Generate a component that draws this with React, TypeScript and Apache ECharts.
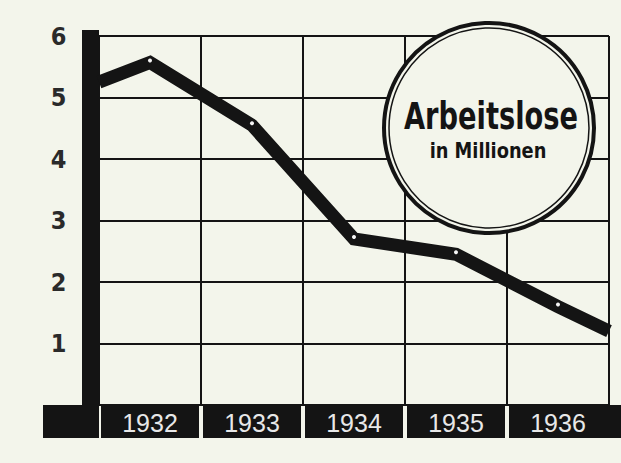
import React, { useEffect, useRef } from "react";
import * as echarts from "echarts";

const years = ["1932", "1933", "1934", "1935", "1936"];
// position along the time axis (0 = start of 1932, 5 = end of 1936)
const linePos = [0, 0.5, 1.5, 2.5, 3.5, 4.5, 5];
const lineValues = [5.25, 5.57, 4.55, 2.7, 2.45, 1.6, 1.2];
const dotted = [false, true, true, true, true, true, false];
const title = "Arbeitslose";
const subtitle = "in Millionen";

const BG = "#f3f5eb";
const INK = "#141414";
const NARROW = "'DejaVu Sans Condensed', 'Liberation Sans', sans-serif";

export default function App() {
  const ref = useRef<HTMLDivElement>(null);
  useEffect(() => {
    if (!ref.current) return;
    const chart = echarts.init(ref.current, null, { renderer: "svg" });
    const lineData = linePos.map((x, i) => ({
      value: [x, lineValues[i]],
      symbol: dotted[i] ? "circle" : "none",
    }));
    chart.setOption({
      animation: false,
      backgroundColor: BG,
      grid: { left: 99, right: 12, top: 36, bottom: 58, containLabel: false },
      xAxis: [
        {
          type: "category",
          data: years,
          boundaryGap: true,
          axisLine: { show: false, onZero: false },
          axisTick: { show: false },
          splitLine: { show: true, lineStyle: { color: INK, width: 2 } },
          axisLabel: {
            interval: 0,
            margin: 0,
            color: "#e8e8e8",
            fontFamily: "'Liberation Sans', Arial, sans-serif",
            fontSize: 25,
            backgroundColor: INK,
            width: 98,
            height: 33,
            lineHeight: 36,
            align: "center",
          },
        },
        {
          type: "value",
          min: 0,
          max: 5,
          show: false,
          axisLine: { onZero: false },
        },
      ],
      yAxis: {
        type: "value",
        min: 0,
        max: 6,
        interval: 1,
        offset: 8.5,
        axisLine: {
          show: true,
          onZero: false,
          lineStyle: { color: INK, width: 17, cap: "butt" },
        },
        axisTick: { show: false },
        splitLine: { show: true, lineStyle: { color: INK, width: 2 } },
        axisLabel: {
          margin: 24,
          color: "#2a2a2a",
          fontFamily: NARROW,
          fontWeight: "bold",
          fontSize: 25,
          formatter: (v: number) => (v === 0 ? "" : String(v)),
        },
      },
      series: [
        {
          type: "line",
          xAxisIndex: 1,
          data: lineData,
          symbolSize: 4,
          symbolOffset: [0, -2],
          itemStyle: { color: "#f5f5f5", borderWidth: 0 },
          lineStyle: { color: INK, width: 13, join: "miter", cap: "butt" },
          z: 3,
        },
      ],
      graphic: [
        { type: "rect", z: 50, shape: { x: 82, y: 30, width: 17, height: 8 }, style: { fill: INK } },
        { type: "rect", z: 50, shape: { x: 43, y: 405, width: 56, height: 33 }, style: { fill: INK } },
        { type: "rect", z: 50, shape: { x: 606, y: 405, width: 15, height: 33 }, style: { fill: INK } },
        {
          type: "circle",
          z: 100,
          shape: { cx: 489, cy: 128, r: 105 },
          style: { fill: BG, stroke: INK, lineWidth: 4 },
        },
        {
          type: "circle",
          z: 101,
          shape: { cx: 489, cy: 128, r: 100 },
          style: { fill: "none", stroke: INK, lineWidth: 1.5 },
        },
        {
          type: "text",
          z: 102,
          x: 491,
          y: 116,
          scaleX: 0.82,
          style: {
            text: title,
            fill: INK,
            font: `bold 37px ${NARROW}`,
            align: "center",
            verticalAlign: "middle",
          },
        },
        {
          type: "text",
          z: 102,
          x: 488,
          y: 151,
          scaleX: 0.9,
          style: {
            text: subtitle,
            fill: INK,
            font: `bold 22px ${NARROW}`,
            align: "center",
            verticalAlign: "middle",
          },
        },
      ],
    });
    return () => chart.dispose();
  }, []);
  return (
    <div
      ref={ref}
      style={{ position: "absolute", left: 0, top: 0, width: 621, height: 463 }}
    />
  );
}
